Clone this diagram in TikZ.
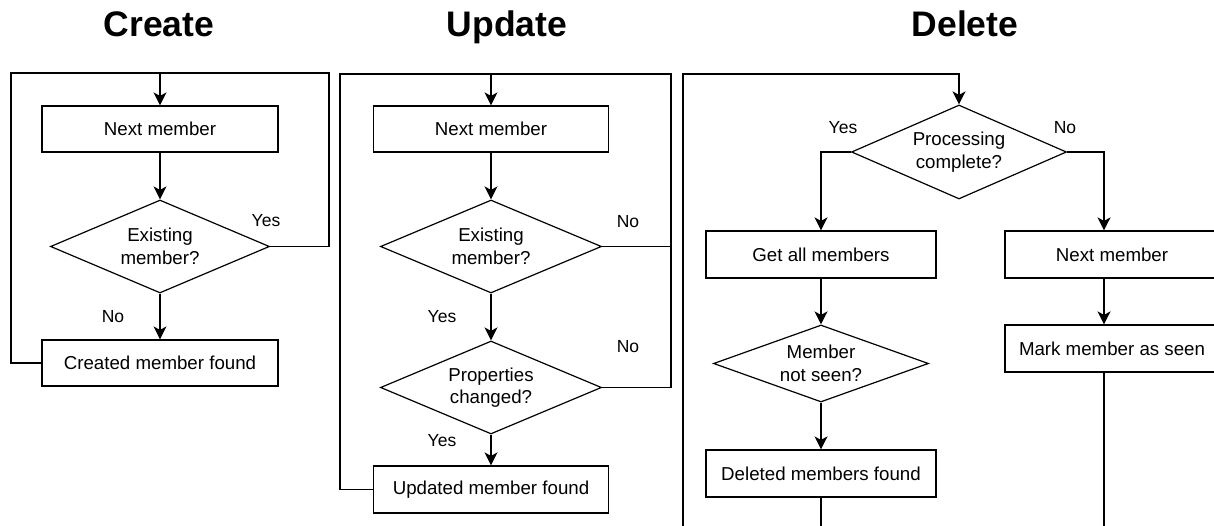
\documentclass[tikz,border=0pt]{standalone}
\usepackage{fontspec}
\setmainfont{Liberation Sans}
\usetikzlibrary{shapes.geometric,arrows.meta,calc}
\begin{document}
\begin{tikzpicture}[x=1pt,y=-1pt,
  line width=1.4pt,
  arr/.style={-{Stealth[length=13pt,width=13pt,inset=3.5pt]}},
  boxnode/.style={draw,rectangle,inner sep=0pt,line width=1.2pt,font=\fontsize{18.7}{22}\selectfont},
  dec/.style={draw,diamond,shape aspect=2.35,inner sep=0pt,line width=1.2pt,align=center,font=\fontsize{18.7}{22.5}\selectfont},
  lbl/.style={font=\fontsize{17.5}{21}\selectfont,inner sep=0pt},
  ttl/.style={font=\fontsize{35.5}{40}\selectfont\bfseries,inner sep=0pt,anchor=base}]
\useasboundingbox (0,0) rectangle (1214,526);
\clip (0,0) rectangle (1214,526);
% titles
\node[ttl] (t1) at (159,37) {Create};
\node[ttl] (t2) at (507,37) {Update};
\node[ttl] (t3) at (965,37) {Delete};

% ---------- Create ----------
\node[boxnode,minimum width=236pt,minimum height=46pt] (cn) at (160,129) {Next member};
\node[dec,minimum width=219pt,minimum height=93pt] (cd) at (160,246.5) {Existing\\member?};
\node[boxnode,minimum width=236pt,minimum height=46pt] (cf) at (160,363) {Created member found};
\coordinate (ctl) at (11,73);
\coordinate (ctr) at (329,73);
\draw[arr] (cn) -- (cd);
\draw[arr] (cd) -- (cf);
\draw[arr] (cf.west) -| (ctl) -| (cn.north);
\draw (cd.east) -| (ctr) -- (ctr -| cn.north);
\node[lbl] (cy) at (266,221) {Yes};
\node[lbl] (cno) at (113,317) {No};

% ---------- Update ----------
\node[boxnode,minimum width=235pt,minimum height=46pt] (un) at (491,129) {Next member};
\node[dec,minimum width=221pt,minimum height=93pt] (ud1) at (491,246.5) {Existing\\member?};
\node[dec,minimum width=221pt,minimum height=93pt] (ud2) at (491,387.5) {Properties\\changed?};
\node[boxnode,minimum width=235pt,minimum height=47pt] (uf) at (491,489.5) {Updated member found};
\coordinate (utl) at (340,74);
\coordinate (utr) at (671,74);
\draw[arr] (un) -- (ud1);
\draw[arr] (ud1) -- (ud2);
\draw[arr] (ud2) -- (uf);
\draw[arr] (uf.west) -| (utl) -| (un.north);
\draw (ud1.east) -| (utr) -- (utr -| un.north);
\draw (ud2.east) -| (utr);
\node[lbl] (uno1) at (628,222) {No};
\node[lbl] (uy1) at (442,317) {Yes};
\node[lbl] (uno2) at (628,347) {No};
\node[lbl] (uy2) at (442,441) {Yes};

% ---------- Delete ----------
\node[dec,minimum width=215pt,minimum height=94pt] (dd1) at (959,152) {Processing\\complete?};
\node[boxnode,minimum width=230pt,minimum height=47pt] (dg) at (821,254.5) {Get all members};
\node[dec,minimum width=215pt,minimum height=77pt] (dd2) at (821,363.5) {Member\\not seen?};
\node[boxnode,minimum width=230pt,minimum height=47pt] (df) at (821,473.5) {Deleted members found};
\node[boxnode,minimum width=214pt,minimum height=47pt] (dn) at (1112,254.5) {Next member};
\node[boxnode,minimum width=214pt,minimum height=47pt] (dm) at (1112,348.5) {Mark member as seen};
\coordinate (dax) at (1104,0);
\coordinate (dtl) at (683,74);
\coordinate (dbl) at (683,545);
\coordinate (dbm) at (821,545);
\coordinate (dbr) at (1104,545);
\draw[arr] (dd1.west) -| (dg.north);
\draw[arr] (dd1.east) -| (dn.north -| dax);
\draw[arr] (dg) -- (dd2);
\draw[arr] (dd2) -- (df);
\draw[arr] (dn.south -| dax) -- (dm.north -| dax);
\draw (df.south) -- (dbm);
\draw (dm.south -| dax) -- (dbr);
\draw[arr] (dbl) -- (dtl) -| (dd1.north);
\node[lbl] (dy) at (843,128) {Yes};
\node[lbl] (dno) at (1065,128) {No};
\end{tikzpicture}
\end{document}
